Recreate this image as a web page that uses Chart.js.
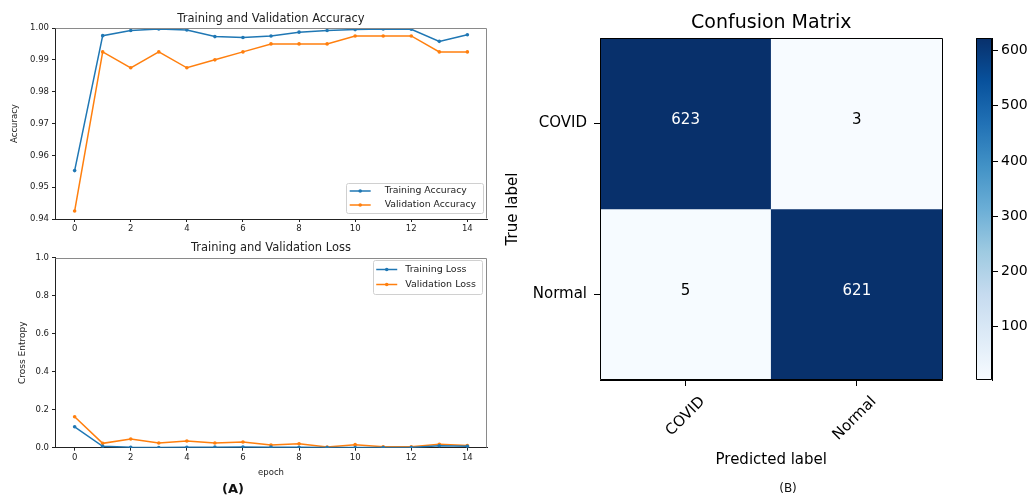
<!DOCTYPE html>
<html>
<head>
<meta charset="utf-8">
<script src="https://cdn.jsdelivr.net/npm/chart.js@4.4.0/dist/chart.umd.min.js"></script>
<style>
html,body{margin:0;padding:0;background:#fff;width:1035px;height:496px;overflow:hidden;}
.box{position:absolute;}
.lbl{position:absolute;transform:translate(-50%,-50%);font-family:"DejaVu Sans";color:#111;white-space:nowrap;line-height:1;}
</style>
</head>
<body>
<div class="box" style="left:0;top:0;width:500px;height:240px"><canvas id="acc"></canvas></div>
<div class="box" style="left:0;top:240px;width:500px;height:256px"><canvas id="loss"></canvas></div>
<div class="box" style="left:500px;top:0;width:460px;height:496px"><canvas id="cm"></canvas></div>
<div class="box" style="left:950px;top:0;width:85px;height:496px"><canvas id="cb"></canvas></div>
<div class="lbl" style="left:233px;top:488px;font-size:13px;font-weight:bold">(A)</div>
<div class="lbl" style="left:788px;top:488px;font-size:12px">(B)</div>
<script>
// ---------- data ----------
const epochs = [0,1,2,3,4,5,6,7,8,9,10,11,12,13,14];
const trainAcc = [0.9552,0.9976,0.9992,0.9997,0.9994,0.9973,0.9970,0.9975,0.9987,0.9992,0.9995,0.9997,0.9996,0.9958,0.9979];
const valAcc   = [0.9425,0.9925,0.9875,0.9925,0.9875,0.9900,0.9925,0.9950,0.9950,0.9950,0.9975,0.9975,0.9975,0.9925,0.9925];
const trainLoss = [0.110,0.007,0.002,0.001,0.002,0.003,0.004,0.003,0.002,0.001,0.001,0.001,0.001,0.010,0.007];
const valLoss   = [0.163,0.023,0.046,0.025,0.035,0.025,0.030,0.014,0.021,0.004,0.016,0.005,0.005,0.018,0.011];
const epochTicks = [0,2,4,6,8,10,12,14];
const accTickLabels = ['0.94','0.95','0.96','0.97','0.98','0.99','1.00'];
const lossTickLabels = ['0.0','0.2','0.4','0.6','0.8','1.0'];
const cmClasses = ['COVID','Normal'];
const cmValues = [[623,3],[5,621]];
const cbTickLabels = ['100','200','300','400','500','600'];

// ---------- helpers ----------
const FONT = '"DejaVu Sans", sans-serif';
const BLUES = ['#f7fbff','#deebf7','#c6dbef','#9ecae1','#6baed6','#4292c6','#2171b5','#08519c','#08306b'];
function hex2rgb(h){return [parseInt(h.substr(1,2),16),parseInt(h.substr(3,2),16),parseInt(h.substr(5,2),16)];}
function blues(t){
  t=Math.max(0,Math.min(1,t)); const s=t*8; const i=Math.min(7,Math.floor(s)); const f=s-i;
  const a=hex2rgb(BLUES[i]), b=hex2rgb(BLUES[i+1]);
  return 'rgb('+a.map((v,k)=>Math.round(v+(b[k]-v)*f)).join(',')+')';
}
const allVals = cmValues.flat();
const cMin = Math.min(...allVals), cMax = Math.max(...allVals);

// ---------- plugins ----------
const areaTitle = {
  id:'areaTitle',
  afterDraw(chart, args, o){
    if(!o || !o.text) return;
    const {ctx, chartArea:a} = chart;
    ctx.save(); ctx.font = o.font; ctx.fillStyle = o.color; ctx.textAlign='center'; ctx.textBaseline='middle';
    ctx.fillText(o.text, (a.left+a.right)/2, o.y); ctx.restore();
  }
};
const frame = {
  id:'frame',
  afterDatasetsDraw(chart, args, o){
    if(!o || !o.color) return;
    const {ctx, chartArea:a} = chart;
    const L=Math.round(a.left)+0.5, R=Math.round(a.right)-0.5, T=Math.round(a.top)+0.5, B=Math.round(a.bottom)-0.5;
    ctx.save(); ctx.strokeStyle=o.color; ctx.lineWidth=1; ctx.beginPath();
    const sides = o.sides || 'tlbr';
    if(sides.includes('t')){ctx.moveTo(L,T);ctx.lineTo(R,T);}
    if(sides.includes('r')){ctx.moveTo(R,T);ctx.lineTo(R,B);}
    if(sides.includes('b')){ctx.moveTo(L,B);ctx.lineTo(R,B);}
    if(sides.includes('l')){ctx.moveTo(L,T);ctx.lineTo(L,B);}
    ctx.stroke(); ctx.restore();
  }
};
const innerLegend = {
  id:'innerLegend',
  afterDraw(chart, args, o){
    if(!o || !o.font) return;
    const {ctx, chartArea:ca} = chart;
    ctx.save(); ctx.font = o.font;
    const ds = chart.data.datasets;
    const tw = Math.max(...ds.map(d=>ctx.measureText(d.label).width));
    const w = o.padL + o.lineLen + o.gap + tw + o.padR;
    const h = o.rowH*ds.length + o.padY*2;
    const x = ca.right - o.dx - w;
    const y = o.corner==='br' ? ca.bottom - o.dy - h : ca.top + o.dy;
    ctx.fillStyle='rgba(255,255,255,0.85)'; ctx.strokeStyle='#d0d0d0'; ctx.lineWidth=1;
    ctx.beginPath(); ctx.roundRect(Math.round(x)+0.5, Math.round(y)+0.5, Math.round(w), Math.round(h), 2); ctx.fill(); ctx.stroke();
    ds.forEach((d,i)=>{
      const cy = y + o.padY + o.rowH*(i+0.5);
      const x0 = x + o.padL, x1 = x0 + o.lineLen;
      ctx.strokeStyle=d.borderColor; ctx.lineWidth=1.5;
      ctx.beginPath(); ctx.moveTo(x0,cy); ctx.lineTo(x1,cy); ctx.stroke();
      ctx.fillStyle=d.borderColor; ctx.beginPath(); ctx.arc((x0+x1)/2, cy, 1.8, 0, Math.PI*2); ctx.fill();
      ctx.fillStyle='#222'; ctx.textAlign='left'; ctx.textBaseline='middle';
      ctx.fillText(d.label, x1 + o.gap, cy);
    });
    ctx.restore();
  }
};
const cellText = {
  id:'cellText',
  afterDatasetsDraw(chart, args, o){
    if(!o || !o.font) return;
    const ctx = chart.ctx; ctx.save(); ctx.font=o.font; ctx.textAlign='center'; ctx.textBaseline='middle';
    const thresh = (cMax + cMin)/2;
    chart.data.datasets.forEach((ds,di)=>{
      chart.getDatasetMeta(di).data.forEach((el,j)=>{
        const v = ds.values[j];
        ctx.fillStyle = v > thresh ? '#ffffff' : '#000000';
        ctx.fillText(String(v), el.x, (el.y + el.base)/2 + o.dy);
      });
    });
    ctx.restore();
  }
};

// ---------- line charts ----------
function makeLine(id, c){
  return new Chart(document.getElementById(id), {
    type:'line',
    data:{ datasets: c.series.map(s=>({
      label:s.label, data: epochs.map((e,i)=>({x:e, y:s.values[i]})),
      borderColor:s.color, backgroundColor:s.color, borderWidth:1.5,
      pointRadius:1.8, pointHoverRadius:1.8, pointBorderWidth:0, tension:0, fill:false
    }))},
    options:{
      responsive:true, maintainAspectRatio:false, animation:false, devicePixelRatio:1,
      layout:{padding:c.padding},
      plugins:{
        legend:{display:false}, tooltip:{enabled:false},
        areaTitle:{text:c.title, y:c.titleY, font:'11.5px '+FONT, color:'#222'},
        frame:{color:'#8a8a8a', sides:'tr'},
        innerLegend:c.legend
      },
      scales:{
        x:{
          type:'linear', min:-0.7, max:14.7,
          afterBuildTicks:s=>{ s.ticks = epochTicks.map(v=>({value:v})); },
          afterFit:s=>{ s.height = c.xHeight; },
          ticks:{font:{family:FONT,size:8.5}, color:'#222', padding:2, maxRotation:0, autoSkip:false, callback:v=>String(v)},
          grid:{drawOnChartArea:false, drawTicks:true, tickLength:3, color:'#222'},
          border:{display:true, color:'#222'},
          title: c.xTitle ? {display:true, text:c.xTitle, font:{family:FONT,size:8.5}, color:'#222', padding:{top:0,bottom:c.xTitlePad}} : {display:false}
        },
        y:{
          type:'linear', min:c.yMin, max:c.yMax,
          afterBuildTicks:s=>{ s.ticks = c.yTicks.map(t=>({value:parseFloat(t)})); },
          afterFit:s=>{ s.width = 55; },
          ticks:{font:{family:FONT,size:8.5}, color:'#222', padding:3, callback:(v)=>{ const t=c.yTicks.find(t=>Math.abs(parseFloat(t)-v)<1e-9); return t===undefined?'':t; }},
          grid:{drawOnChartArea:false, drawTicks:true, tickLength:3, color:'#222'},
          border:{display:true, color:'#222'},
          title:{display:true, text:c.yTitle, font:{family:FONT,size:c.yTitleSize}, color:'#222', padding:{top:c.yTitlePad,bottom:0}}
        }
      }
    },
    plugins:[areaTitle, frame, innerLegend]
  });
}

makeLine('acc', {
  title:'Training and Validation Accuracy', titleY:19,
  padding:{left:0,right:13,top:28,bottom:0}, xHeight:21,
  yMin:0.94, yMax:1.0, yTicks:accTickLabels, yTitle:'Accuracy', yTitleSize:8.5, yTitlePad:10,
  series:[{label:'Training Accuracy', values:trainAcc, color:'#1f77b4'},{label:'Validation Accuracy', values:valAcc, color:'#ff7f0e'}],
  legend:{font:'9.3px '+FONT, corner:'br', dx:4, dy:6, padL:4, lineLen:21, gap:14, padR:7, rowH:14, padY:1}
});
makeLine('loss', {
  title:'Training and Validation Loss', titleY:8,
  padding:{left:0,right:13,top:17.7,bottom:0}, xHeight:48.3, xTitle:'epoch', xTitlePad:18,
  yMin:0, yMax:1.0, yTicks:lossTickLabels, yTitle:'Cross Entropy', yTitleSize:9, yTitlePad:17,
  series:[{label:'Training Loss', values:trainLoss, color:'#1f77b4'},{label:'Validation Loss', values:valLoss, color:'#ff7f0e'}],
  legend:{font:'9.5px '+FONT, corner:'tr', dx:5, dy:2.3, padL:3, lineLen:21, gap:8, padR:6, rowH:15, padY:2}
});

// ---------- confusion matrix ----------
new Chart(document.getElementById('cm'), {
  type:'bar',
  data:{
    labels: cmClasses,
    datasets: cmValues.map((row,r)=>({
      label: cmClasses[r], values: row,
      data: row.map(()=>[r-0.5, r+0.5]),
      backgroundColor: row.map(v=>blues((v-cMin)/(cMax-cMin))),
      borderWidth:0, barPercentage:1, categoryPercentage:1, grouped:false
    }))
  },
  options:{
    responsive:true, maintainAspectRatio:false, animation:false, devicePixelRatio:1,
    layout:{padding:{left:0,right:17.5,top:38,bottom:0}},
    plugins:{
      legend:{display:false}, tooltip:{enabled:false},
      areaTitle:{text:'Confusion Matrix', y:23, font:'19px '+FONT, color:'#000'},
      frame:{color:'#000', sides:'tlbr'},
      cellText:{font:'15px '+FONT, dy:-3.5}
    },
    scales:{
      x:{
        type:'category', offset:true,
        afterFit:s=>{ s.height = 116; },
        ticks:{font:{family:FONT,size:15}, color:'#000', minRotation:45, maxRotation:45, labelOffset:17, padding:7, autoSkip:false},
        grid:{offset:false, drawOnChartArea:false, drawTicks:true, tickLength:6, color:'#000'},
        border:{display:true, color:'#000'},
        title:{display:true, text:'Predicted label', font:{family:FONT,size:15}, color:'#000', padding:{top:0,bottom:27}}
      },
      y:{
        type:'linear', reverse:true, min:-0.5, max:1.5,
        afterBuildTicks:s=>{ s.ticks = cmClasses.map((c,i)=>({value:i})); },
        afterFit:s=>{ s.width = 100; },
        ticks:{font:{family:FONT,size:15}, color:'#000', padding:7, callback:v=>cmClasses[v]},
        grid:{drawOnChartArea:false, drawTicks:true, tickLength:6, color:'#000'},
        border:{display:true, color:'#000'},
        title:{display:true, text:'True label', font:{family:FONT,size:15}, color:'#000', padding:{top:4.6,bottom:0}}
      }
    }
  },
  plugins:[areaTitle, frame, cellText]
});

// ---------- colorbar ----------
new Chart(document.getElementById('cb'), {
  type:'bar',
  data:{ labels:[''], datasets:[{
    data:[[cMin,cMax]], borderWidth:0, barPercentage:1, categoryPercentage:1,
    backgroundColor:(c)=>{
      const ca = c.chart.chartArea; if(!ca) return BLUES[4];
      const g = c.chart.ctx.createLinearGradient(0, ca.bottom, 0, ca.top);
      BLUES.forEach((col,i)=>g.addColorStop(i/8, col)); return g;
    }
  }]},
  options:{
    responsive:true, maintainAspectRatio:false, animation:false, devicePixelRatio:1,
    layout:{padding:{left:26,right:0,top:38,bottom:116}},
    plugins:{legend:{display:false}, tooltip:{enabled:false}, frame:{color:'#000', sides:'tlbr'}},
    scales:{
      x:{display:false, offset:true},
      y:{
        position:'right', min:cMin, max:cMax,
        afterBuildTicks:s=>{ s.ticks = cbTickLabels.map(t=>({value:parseFloat(t)})); },
        afterFit:s=>{ s.width = 43; },
        ticks:{font:{family:FONT,size:14}, color:'#000', padding:3},
        grid:{drawOnChartArea:false, drawTicks:true, tickLength:6, color:'#000'},
        border:{display:true, color:'#000'}
      }
    }
  },
  plugins:[frame]
});
</script>
</body>
</html>
